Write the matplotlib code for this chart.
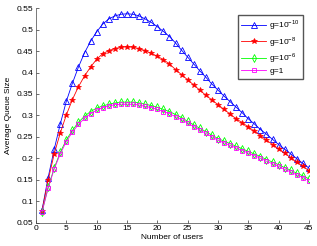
import matplotlib
matplotlib.use("Agg")
import matplotlib.pyplot as plt

users = list(range(1, 46))

g_1e10 = [0.080, 0.155, 0.221, 0.280, 0.333, 0.375, 0.413, 0.446, 0.473, 0.495,
          0.513, 0.525, 0.532, 0.536, 0.537, 0.536, 0.532, 0.525, 0.517, 0.507,
          0.496, 0.484, 0.469, 0.452, 0.436, 0.420, 0.404, 0.389, 0.373, 0.359,
          0.345, 0.332, 0.319, 0.306, 0.292, 0.280, 0.267, 0.256, 0.244, 0.232,
          0.221, 0.210, 0.199, 0.188, 0.177]
g_1e8 = [0.078, 0.149, 0.210, 0.259, 0.301, 0.337, 0.367, 0.392, 0.413, 0.431,
         0.444, 0.451, 0.456, 0.459, 0.460, 0.459, 0.456, 0.451, 0.445, 0.438,
         0.430, 0.420, 0.407, 0.395, 0.383, 0.371, 0.359, 0.347, 0.336, 0.325,
         0.314, 0.303, 0.292, 0.283, 0.273, 0.263, 0.253, 0.242, 0.232, 0.222,
         0.212, 0.201, 0.191, 0.181, 0.171]
g_1e6 = [0.075, 0.132, 0.177, 0.214, 0.243, 0.265, 0.284, 0.298, 0.309, 0.317,
         0.322, 0.326, 0.329, 0.331, 0.331, 0.331, 0.329, 0.326, 0.323, 0.319,
         0.314, 0.309, 0.302, 0.295, 0.286, 0.278, 0.270, 0.262, 0.254, 0.246,
         0.240, 0.234, 0.228, 0.222, 0.216, 0.210, 0.204, 0.197, 0.191, 0.185,
         0.178, 0.172, 0.165, 0.159, 0.152]
g_1 = [0.075, 0.130, 0.175, 0.210, 0.239, 0.261, 0.279, 0.293, 0.304, 0.312,
       0.318, 0.322, 0.325, 0.326, 0.326, 0.326, 0.324, 0.321, 0.318, 0.314,
       0.309, 0.304, 0.297, 0.290, 0.282, 0.274, 0.266, 0.258, 0.250, 0.242,
       0.236, 0.230, 0.224, 0.218, 0.212, 0.206, 0.200, 0.193, 0.187, 0.181,
       0.174, 0.168, 0.161, 0.155, 0.148]

labels = ['g=10$^{-10}$', 'g=10$^{-8}$', 'g=10$^{-6}$', 'g=1']

plt.rcParams['font.family'] = ['Liberation Sans', 'DejaVu Sans']
plt.rcParams['mathtext.fontset'] = 'custom'
plt.rcParams['mathtext.rm'] = 'Liberation Sans'

fig = plt.figure(figsize=(3.17, 2.46), dpi=100)
ax = fig.add_axes([0.1136, 0.0955, 0.861, 0.871])

ax.plot(users, g_1e10, color='#0000ff', lw=0.6, marker='^', ms=4.2, mfc='none', mew=0.6, label=labels[0])
ax.plot(users, g_1e8, color='#ff0000', lw=0.6, marker='*', ms=3.8, mew=0.5, label=labels[1])
ax.plot(users, g_1e6, color='#00ff00', lw=0.6, marker='d', ms=3.6, mfc='none', mew=0.6, label=labels[2])
ax.plot(users, g_1, color='#ff00ff', lw=0.6, marker='s', ms=3.2, mfc='none', mew=0.6, label=labels[3])

ax.set_xlim(0, 45)
ax.set_ylim(0.05, 0.55)
ax.set_xticks(range(0, 46, 5))
ax.set_yticks([0.05, 0.1, 0.15, 0.2, 0.25, 0.3, 0.35, 0.4, 0.45, 0.5, 0.55])
ax.set_yticklabels(['0.05', '0.1', '0.15', '0.2', '0.25', '0.3', '0.35', '0.4', '0.45', '0.5', '0.55'])
ax.tick_params(direction='in', length=2.5, width=0.5, labelsize=6, pad=2, colors='#333333', labelcolor='black')
ax.spines['top'].set_visible(False)
ax.spines['right'].set_visible(False)
for s in ['left', 'bottom']:
    ax.spines[s].set_linewidth(0.5)
    ax.spines[s].set_color('#444444')

ax.set_xlabel('Number of users', fontsize=6, labelpad=1)
ax.set_ylabel('Average Queue Size', fontsize=6, labelpad=3)

leg = ax.legend(loc='upper right', bbox_to_anchor=(0.98, 0.97), fontsize=6, fancybox=False,
                framealpha=1, handlelength=3.0, borderpad=0.4, labelspacing=0.3, handletextpad=0.4,
                borderaxespad=0)
leg.get_frame().set_edgecolor('#555555')
leg.get_frame().set_linewidth(1.0)

fig.savefig('out.png', dpi=100)
